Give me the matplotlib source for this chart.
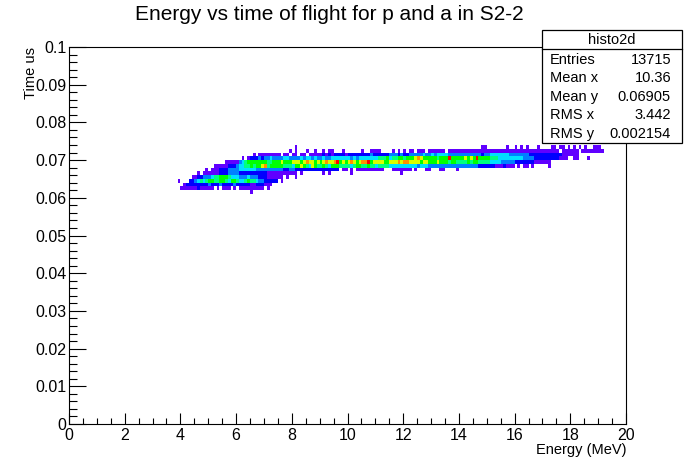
import numpy as np
import matplotlib
matplotlib.use("Agg")
import matplotlib.pyplot as plt
from matplotlib.colors import ListedColormap
from matplotlib.patches import Rectangle

plt.rcParams['font.family'] = ['Liberation Sans', 'DejaVu Sans']

title = "Energy vs time of flight for p and a in S2-2"
stat_names = ["Entries", "Mean x", "Mean y", "RMS x", "RMS y"]
stat_values = ["13715", "10.36", "0.06905", "3.442", "0.002154"]

# histogram is 200 x 100 bins, 0.1 MeV by 0.001 us
first_x_bin = 39
bin_x = 0.1
bin_y = 0.001

# colour level per bin, one string per y bin, '.' is empty, grouped in tens from first_x_bin
row_61 = ".......... .......... ......1..."
row_62 = ".111111211 111.1.111. 1.11111111 1.1......."
row_63 = "..12222222 2322232222 3222221122 2111......"
row_64 = "1...223454 5665566546 6544565543 322222.1.."
row_65 = ".....11223 3345566654 4433343332 22111111.1 ..1......."
row_66 = ".......1.1 1111122233 3322222222 2211111111 111.1..... ..1.1..... ..1....... .......... 1........."
row_67 = ".......... 1.11122233 3344444433 3333333322 3322222222 22222222.1 1.1.111111 1111...111 1111.1...1 1...11.... 1........."
row_68 = ".......... ...1111122 2344556566 7856666655 5466765476 5565466655 5545665565 5455554444 4444443444 3333333333 3333333322 2222111211 1.1.11.1.. ...1......"
row_69 = ".......... .......111 1134566666 6655666766 6777678776 7678778967 6787678896 7777667778 7887777677 6667666566 5555656655 5544443333 3222222211 1111......"
row_70 = ".......... .......... ...1.12223 2334333344 3333434434 3343344444 4434344444 4455564556 6566678766 6665666966 6667676966 6655544444 4444333322 2222222111 ..11...1.."
row_71 = ".......... .......... .......1.1 1111111.11 .11.11.111 1121212222 1222222223 2222223332 3223333343 3434444333 3333333332 3344444443 3333332222 2222222211 1111......"
row_72 = ".......... .......... .......... .......... 1.1...1..1 ..1.11...1 ......1..1 111....1.1 .1.11.111. 111111.111 1111111111 1111111111 1111111111 1111111.11 1111.11111 111"
row_73 = ".......... .......... .......... .......... ..1....... .......... .......... .......... .......... .......... .........1 1.......1. .1.1.1...1 ....11.11. 1.1.1.1..1 11."

rows = {61: row_61, 62: row_62, 63: row_63, 64: row_64, 65: row_65, 66: row_66, 67: row_67,
        68: row_68, 69: row_69, 70: row_70, 71: row_71, 72: row_72, 73: row_73}

counts = np.full((100, 200), np.nan)
for k, row in rows.items():
    row = row.replace(" ", "")
    for j, c in enumerate(row):
        if c != ".":
            counts[k, first_x_bin + j] = int(c)

colors = ["#6000ff", "#0000ff", "#0080ff", "#00e0ff", "#00ff80", "#00ff00", "#d8ff00", "#ff9000", "#ff0000"]
cmap = ListedColormap(colors)

W, H = 696, 472
fig = plt.figure(figsize=(W / 100, H / 100), dpi=100)
ax = fig.add_axes([69 / W, 1 - 424 / H, 557 / W, 377 / H])

x_edges = np.arange(201) * bin_x
y_edges = np.arange(101) * bin_y
ax.pcolormesh(x_edges, y_edges, counts, cmap=cmap, vmin=0.5, vmax=9.5, linewidth=0)

ax.set_xlim(0, 20)
ax.set_ylim(0, 0.1)

ax.set_xticks(np.arange(0, 21, 2))
ax.set_xticks(np.arange(0, 20.01, 0.5), minor=True)
ax.set_yticks(np.arange(0, 0.101, 0.01))
ax.set_yticks(np.arange(0, 0.1001, 0.002), minor=True)
ax.set_xticklabels([str(v) for v in range(0, 21, 2)])
ax.set_yticklabels(["0", "0.01", "0.02", "0.03", "0.04", "0.05", "0.06", "0.07", "0.08", "0.09", "0.1"])

ax.tick_params(axis="x", which="major", direction="in", length=8, width=0.8, labelsize=11.5, pad=3)
ax.tick_params(axis="x", which="minor", direction="in", length=4, width=0.8)
ax.tick_params(axis="y", which="major", direction="in", length=12, width=0.8, labelsize=11.5, pad=2)
ax.tick_params(axis="y", which="minor", direction="in", length=6, width=0.8)
for s in ax.spines.values():
    s.set_linewidth(0.8)

fig.text(329 / W, 1 - 14 / H, title, ha="center", va="center", fontsize=15)
fig.text(627 / W, 1 - 450 / H, "Energy (MeV)", ha="right", va="center", fontsize=10.5)
fig.text(31 / W, 1 - 47 / H, "Time us", ha="center", va="top", rotation=90, fontsize=10.5)

# stats box
fig.add_artist(Rectangle((542 / W, 1 - 143 / H), 140 / W, 113 / H, transform=fig.transFigure,
                         facecolor="white", edgecolor="black", linewidth=0.9, zorder=5))
fig.add_artist(plt.Line2D([542 / W, 682 / W], [1 - 49 / H, 1 - 49 / H], color="black", linewidth=0.9, zorder=6))
fig.text(612 / W, 1 - 40 / H, "histo2d", ha="center", va="center", fontsize=10.5, zorder=7)
stat_y = [60, 78, 97, 115, 134]
for name, val, yy in zip(stat_names, stat_values, stat_y):
    fig.text(550 / W, 1 - yy / H, name, ha="left", va="center", fontsize=10.5, zorder=7)
    fig.text(671 / W, 1 - yy / H, val, ha="right", va="center", fontsize=10.5, zorder=7)

fig.savefig("out.png", dpi=100)
